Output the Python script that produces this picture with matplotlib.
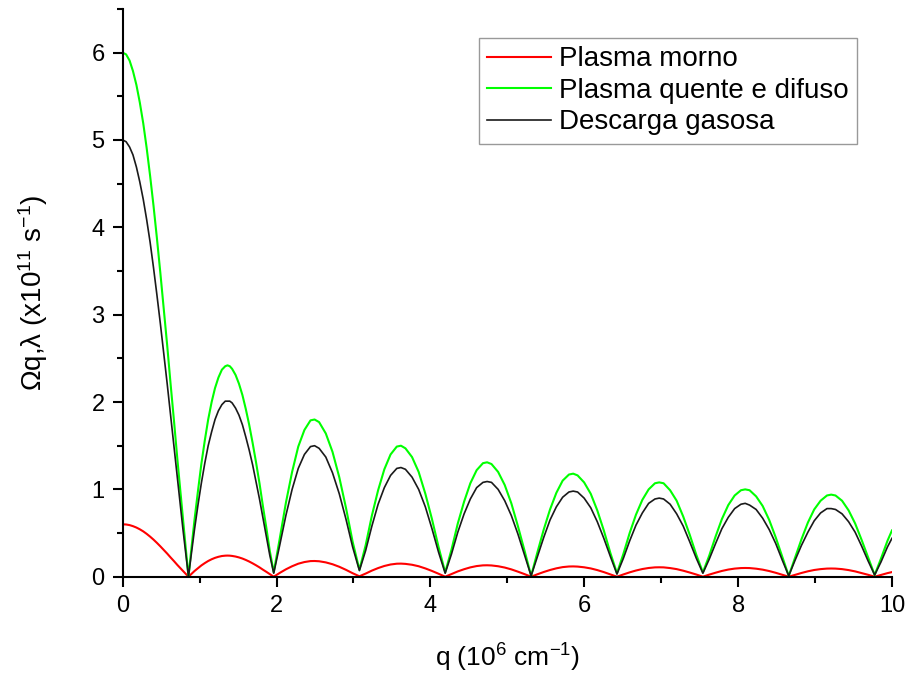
import numpy as np
import matplotlib.pyplot as plt

plt.rcParams['font.family'] = ['Liberation Sans', 'DejaVu Sans']
plt.rcParams['mathtext.fontset'] = 'custom'
plt.rcParams['mathtext.rm'] = 'Liberation Sans'
plt.rcParams['mathtext.it'] = 'Liberation Sans:italic'

# q (10^6 cm^-1): first lobe, then one arch per row
q = [0, 0.044, 0.089, 0.133, 0.178, 0.222, 0.267, 0.311, 0.356, 0.400, 0.444,
     0.489, 0.533, 0.578, 0.622, 0.667, 0.711, 0.747, 0.782, 0.819, 0.855,
     0.889, 0.933, 0.978, 1.022, 1.067, 1.111, 1.156, 1.200, 1.244, 1.289, 1.333, 1.362, 1.392,
     1.422, 1.467, 1.511, 1.556, 1.600, 1.644, 1.689, 1.733, 1.778, 1.822, 1.867, 1.911, 1.963,
     2.042, 2.122, 2.202, 2.282, 2.362, 2.441, 2.494, 2.553, 2.640, 2.727, 2.815, 2.902, 2.989, 3.077,
     3.158, 3.239, 3.320, 3.401, 3.482, 3.563, 3.617, 3.675, 3.761, 3.847, 3.934, 4.020, 4.106, 4.192,
     4.274, 4.356, 4.438, 4.519, 4.601, 4.683, 4.737, 4.794, 4.880, 4.966, 5.052, 5.137, 5.223, 5.309,
     5.391, 5.473, 5.555, 5.637, 5.719, 5.801, 5.856, 5.913, 5.998, 6.084, 6.169, 6.254, 6.340, 6.425,
     6.508, 6.590, 6.672, 6.755, 6.837, 6.919, 6.974, 7.031, 7.116, 7.201, 7.286, 7.371, 7.457, 7.542,
     7.624, 7.707, 7.789, 7.872, 7.955, 8.037, 8.092, 8.149, 8.234, 8.319, 8.404, 8.489, 8.574, 8.658,
     8.741, 8.824, 8.907, 8.989, 9.072, 9.155, 9.210, 9.266, 9.351, 9.436, 9.521, 9.606, 9.690, 9.775,
     9.858, 9.941, 10.0]

# Plasma quente e difuso (x10^11 s^-1)
quente = [6.00, 5.98, 5.91, 5.79, 5.63, 5.43, 5.19, 4.91, 4.59, 4.25, 3.88,
          3.48, 3.07, 2.65, 2.21, 1.78, 1.34, 1.00, 0.66, 0.33, 0.00,
          0.29, 0.65, 0.98, 1.29, 1.56, 1.80, 2.00, 2.16, 2.28, 2.37, 2.41, 2.42, 2.41,
          2.38, 2.31, 2.21, 2.08, 1.92, 1.74, 1.53, 1.31, 1.07, 0.81, 0.56, 0.30, 0.05,
          0.44, 0.85, 1.20, 1.49, 1.68, 1.79, 1.80, 1.77, 1.64, 1.43, 1.14, 0.79, 0.40, 0.08,
          0.36, 0.70, 0.99, 1.23, 1.40, 1.49, 1.50, 1.47, 1.37, 1.20, 0.95, 0.66, 0.34, 0.05,
          0.31, 0.61, 0.86, 1.07, 1.22, 1.30, 1.31, 1.29, 1.20, 1.05, 0.84, 0.58, 0.30, 0.01,
          0.28, 0.54, 0.77, 0.96, 1.10, 1.17, 1.18, 1.16, 1.08, 0.95, 0.76, 0.53, 0.27, 0.04,
          0.26, 0.50, 0.71, 0.88, 1.00, 1.07, 1.08, 1.07, 0.99, 0.87, 0.69, 0.48, 0.25, 0.05,
          0.24, 0.46, 0.66, 0.82, 0.93, 0.99, 1.00, 0.99, 0.92, 0.81, 0.65, 0.45, 0.23, 0.01,
          0.22, 0.43, 0.62, 0.77, 0.87, 0.93, 0.94, 0.93, 0.87, 0.76, 0.61, 0.42, 0.22, 0.02,
          0.21, 0.41, 0.53]

# Descarga gasosa
descarga = [5.00, 4.98, 4.92, 4.83, 4.69, 4.52, 4.32, 4.09, 3.83, 3.54, 3.23,
            2.90, 2.56, 2.21, 1.85, 1.48, 1.12, 0.83, 0.55, 0.27, 0.00,
            0.24, 0.54, 0.82, 1.07, 1.30, 1.50, 1.66, 1.80, 1.90, 1.97, 2.01, 2.01, 2.01,
            1.99, 1.93, 1.85, 1.74, 1.60, 1.45, 1.28, 1.09, 0.89, 0.68, 0.47, 0.25, 0.04,
            0.365, 0.705, 1.00, 1.24, 1.40, 1.49, 1.50, 1.47, 1.37, 1.19, 0.95, 0.66, 0.34, 0.07,
            0.30, 0.58, 0.83, 1.02, 1.16, 1.24, 1.25, 1.23, 1.14, 1.00, 0.80, 0.55, 0.28, 0.04,
            0.26, 0.51, 0.72, 0.89, 1.02, 1.08, 1.09, 1.08, 1.00, 0.87, 0.70, 0.49, 0.25, 0.01,
            0.23, 0.45, 0.65, 0.80, 0.91, 0.97, 0.98, 0.97, 0.90, 0.79, 0.63, 0.44, 0.23, 0.03,
            0.21, 0.41, 0.59, 0.73, 0.84, 0.89, 0.90, 0.89, 0.83, 0.72, 0.58, 0.40, 0.21, 0.04,
            0.20, 0.38, 0.55, 0.68, 0.78, 0.83, 0.84, 0.82, 0.77, 0.67, 0.54, 0.38, 0.19, 0.01,
            0.19, 0.36, 0.51, 0.64, 0.73, 0.78, 0.78, 0.77, 0.72, 0.63, 0.51, 0.35, 0.18, 0.02,
            0.17, 0.34, 0.44]

# Plasma morno
morno = [0.600, 0.598, 0.591, 0.579, 0.563, 0.543, 0.519, 0.491, 0.459, 0.425, 0.388,
         0.348, 0.307, 0.265, 0.221, 0.178, 0.134, 0.100, 0.066, 0.033, 0.000,
         0.029, 0.065, 0.098, 0.129, 0.156, 0.180, 0.200, 0.216, 0.228, 0.237, 0.241, 0.242, 0.241,
         0.238, 0.231, 0.221, 0.208, 0.192, 0.174, 0.153, 0.131, 0.107, 0.081, 0.056, 0.030, 0.000,
         0.044, 0.085, 0.120, 0.149, 0.168, 0.179, 0.180, 0.177, 0.164, 0.143, 0.114, 0.079, 0.040, 0.005,
         0.036, 0.070, 0.099, 0.123, 0.140, 0.149, 0.150, 0.147, 0.137, 0.120, 0.095, 0.066, 0.034, 0.000,
         0.031, 0.061, 0.086, 0.107, 0.122, 0.130, 0.131, 0.129, 0.120, 0.105, 0.084, 0.058, 0.030, 0.000,
         0.028, 0.054, 0.077, 0.096, 0.110, 0.117, 0.118, 0.116, 0.108, 0.095, 0.076, 0.053, 0.027, 0.000,
         0.026, 0.050, 0.071, 0.088, 0.100, 0.107, 0.108, 0.107, 0.099, 0.087, 0.069, 0.048, 0.025, 0.000,
         0.024, 0.046, 0.066, 0.082, 0.093, 0.099, 0.100, 0.099, 0.092, 0.081, 0.065, 0.045, 0.023, 0.000,
         0.022, 0.043, 0.062, 0.077, 0.087, 0.093, 0.094, 0.093, 0.087, 0.076, 0.061, 0.042, 0.022, 0.000,
         0.021, 0.041, 0.053]

fig = plt.figure(figsize=(9.05, 6.75), dpi=100)
ax = fig.add_axes([0.1356, 0.1456, 0.85, 0.8411])

ax.plot(q, morno, color='#ff0000', lw=1.5, label='Plasma morno')
ax.plot(q, quente, color='#00ff00', lw=1.5, label='Plasma quente e difuso')
ax.plot(q, descarga, color='#1a1a1a', lw=1.2, label='Descarga gasosa')

ax.set_xlim(0, 10)
ax.set_ylim(0, 6.5)
ax.set_xticks(np.arange(0, 11, 2))
ax.set_xticks(np.arange(1, 10, 2), minor=True)
ax.set_yticks(np.arange(0, 7, 1))
ax.set_yticks(np.arange(0.5, 7, 1), minor=True)

for s in ['top', 'right']:
    ax.spines[s].set_visible(False)
for s in ['left', 'bottom']:
    ax.spines[s].set_linewidth(1.5)

ax.tick_params(which='major', direction='out', length=7, width=1.5, labelsize=17, pad=6)
ax.tick_params(which='minor', direction='out', length=4, width=1.5)

ax.set_xlabel('q (10$^{6}$ cm$^{-1}$)', fontsize=19, labelpad=18)
ax.set_ylabel('Ωq,λ (x10$^{11}$ s$^{-1}$)', fontsize=20, labelpad=30)

leg = ax.legend(loc='upper left', bbox_to_anchor=(0.463, 0.949), borderaxespad=0,
                fontsize=20, frameon=True, fancybox=False, handlelength=2.3,
                handletextpad=0.3, labelspacing=0.2, borderpad=0.3)
leg.get_frame().set_edgecolor('#808080')
leg.get_frame().set_linewidth(1.0)

plt.savefig('out.png', dpi=100)
